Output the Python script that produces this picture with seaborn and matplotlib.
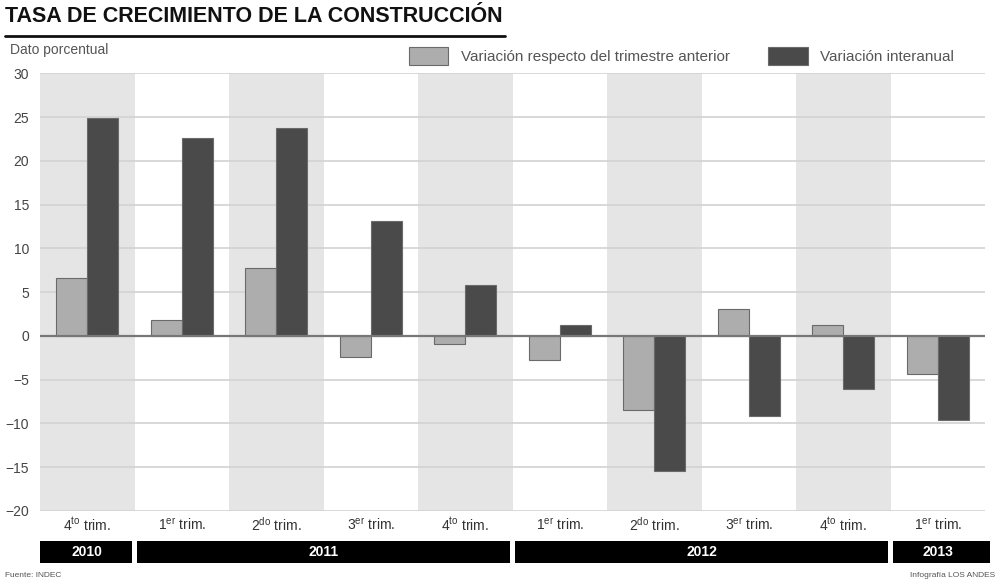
import matplotlib
matplotlib.use('Agg')
import matplotlib.pyplot as plt
import matplotlib.transforms as mtransforms
from matplotlib.patches import Rectangle
from matplotlib.lines import Line2D
import pandas as pd
import seaborn as sns

# Datos
trimestres = ['4$^{\\mathrm{to}}$ trim.', '1$^{\\mathrm{er}}$ trim.', '2$^{\\mathrm{do}}$ trim.',
              '3$^{\\mathrm{er}}$ trim.', '4$^{\\mathrm{to}}$ trim.', '1$^{\\mathrm{er}}$ trim.',
              '2$^{\\mathrm{do}}$ trim.', '3$^{\\mathrm{er}}$ trim.', '4$^{\\mathrm{to}}$ trim.',
              '1$^{\\mathrm{er}}$ trim.']
anios = ['2010', '2011', '2011', '2011', '2011', '2012', '2012', '2012', '2012', '2013']
var_trimestral = [6.6, 1.8, 7.7, -2.4, -0.9, -2.8, -8.5, 3.1, 1.3, -4.3]
var_interanual = [24.9, 22.6, 23.8, 13.1, 5.8, 1.2, -15.4, -9.1, -6.1, -9.6]
series = ['Variación respecto del trimestre anterior', 'Variación interanual']

n = len(trimestres)
df = pd.DataFrame({
    'pos': list(range(n)) * 2,
    'valor': var_trimestral + var_interanual,
    'serie': [series[0]] * n + [series[1]] * n,
})

sns.set_style('white')
plt.rcParams['font.family'] = ['Liberation Sans', 'DejaVu Sans']
plt.rcParams['mathtext.fontset'] = 'custom'
plt.rcParams['mathtext.rm'] = 'Liberation Sans'

fig = plt.figure(figsize=(10, 5.86), dpi=100)
ax = fig.add_axes([0.04, 0.128, 0.945, 0.747])

# bandas grises alternas
for i in range(0, n, 2):
    ax.axvspan(i - 0.5, i + 0.5, color='#e5e5e5', zorder=0, lw=0)

for y in range(-20, 31, 5):
    if y != 0:
        ax.axhline(y, color='#d2d2d2', lw=1.2, zorder=1)

sns.barplot(data=df, x='pos', y='valor', hue='serie', order=list(range(n)),
            palette=['#adadad', '#4a4a4a'], width=0.66, ax=ax, zorder=2,
            edgecolor='#6a6a6a', linewidth=0.8, legend=True)

ax.axhline(0, color='#777777', lw=1.6, zorder=3)

ax.set_xlim(-0.5, n - 0.5)
ax.set_ylim(-20, 30)
ax.set_yticks(range(-20, 31, 5))
ax.tick_params(axis='y', labelsize=10, labelcolor='#444444', length=0, pad=8)
ax.set_xticks(range(n))
ax.set_xticklabels(trimestres, fontsize=10, color='#333333')
ax.tick_params(axis='x', length=0, pad=14)
for lbl in ax.get_xticklabels():
    lbl.set_va('baseline')
ax.set_xlabel('')
ax.set_ylabel('')
for s in ax.spines.values():
    s.set_visible(False)

# franja de años
trans = mtransforms.blended_transform_factory(ax.transData, ax.transAxes)
grupos = []
for i, a in enumerate(anios):
    if grupos and grupos[-1][0] == a:
        grupos[-1][2] = i
    else:
        grupos.append([a, i, i])
for a, i0, i1 in grupos:
    x0 = i0 - 0.5 + (0.03 if i0 > 0 else 0)
    x1 = i1 + 0.5 - (0.03 if i1 < n - 1 else -0.05)
    ax.add_patch(Rectangle((x0, -0.069), x1 - x0, -0.049, transform=trans,
                           facecolor='black', edgecolor='none', clip_on=False))
    ax.text((i0 + i1) / 2, -0.094, a, transform=trans, ha='center', va='center',
            color='white', fontsize=10, fontweight='bold')

# leyenda
handles, labels = ax.get_legend_handles_labels()
ax.legend(handles, labels, loc='center left', bbox_to_anchor=(0.395, 0.904),
          bbox_transform=fig.transFigure, ncol=2, frameon=False, fontsize=11,
          handlelength=2.6, handleheight=1.4, columnspacing=2.5, labelcolor='#555555')

# título
fig.text(0.005, 0.972, 'TASA DE CRECIMIENTO DE LA CONSTRUCCIÓN', fontsize=15.5,
         fontweight='bold', color='#111111', va='center', ha='left')
fig.add_artist(Line2D([0.005, 0.505], [0.938, 0.938], color='#111111', lw=2))
fig.text(0.01, 0.915, 'Dato porcentual', fontsize=10, color='#555555', va='center')

fig.text(0.005, 0.012, 'Fuente: INDEC', fontsize=6, color='#555555', va='bottom')
fig.text(0.995, 0.012, 'Infografía LOS ANDES', fontsize=6, color='#555555',
         va='bottom', ha='right')

fig.savefig('out.png', dpi=100, facecolor='white')
